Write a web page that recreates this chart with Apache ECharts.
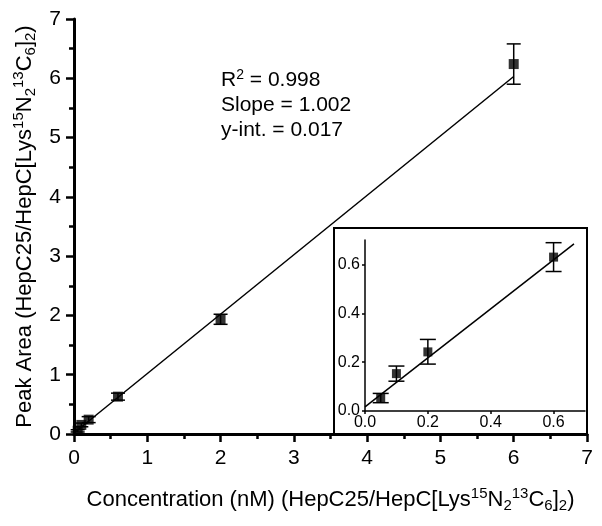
<!DOCTYPE html>
<html>
<head>
<meta charset="utf-8">
<script src="https://cdn.jsdelivr.net/npm/echarts@6/dist/echarts.min.js"></script>
<style>
  html, body { margin: 0; padding: 0; background: #fff; }
  #chart { width: 602px; height: 526px; }
</style>
</head>
<body>
<div id="chart"></div>
<script>
// ===== data =====
const concX = [0.05, 0.1, 0.2, 0.6, 2, 6]
const peakMean = [0.055, 0.153, 0.242, 0.63, 1.94, 6.24]
const peakLow = [0.034, 0.122, 0.192, 0.571, 1.85, 5.9]
const peakHigh = [0.072, 0.184, 0.293, 0.689, 2.02, 6.58]

// fitted line as drawn (endpoints)
const fitMain = [[0, 0.017], [6, 6.03]]
const fitInset = [[0, 0.017], [0.665, 0.684]]

// inset shows the low concentrations only
const insetCount = 4

const insetTicks = [0, 0.2, 0.4, 0.6]

const FONT = "'Liberation Sans', Arial, Helvetica, sans-serif"

const pts = concX.map((x, i) => [x, peakMean[i]])
const errs = concX.map((x, i) => [x, peakLow[i], peakHigh[i]])

// error bars with caps, drawn through the axis scales
const errorBars = (capHalf, lw) => (params, api) => {
    const x = api.value(0)
    const top = api.coord([x, api.value(2)])
    const bot = api.coord([x, api.value(1)])
    const style = { stroke: '#000', lineWidth: lw, fill: null }
    return {
        type: 'group',
        children: [
            { type: 'line', shape: { x1: top[0], y1: top[1], x2: bot[0], y2: bot[1] }, style },
            { type: 'line', shape: { x1: top[0] - capHalf, y1: top[1], x2: top[0] + capHalf, y2: top[1] }, style },
            { type: 'line', shape: { x1: bot[0] - capHalf, y1: bot[1], x2: bot[0] + capHalf, y2: bot[1] }, style }
        ]
    }
}

const richName = {
    sup: { fontSize: 15, fontFamily: FONT, verticalAlign: 'top', lineHeight: 14, color: '#000' },
    sub: { fontSize: 15, fontFamily: FONT, verticalAlign: 'bottom', lineHeight: 14, color: '#000' }
}
const titleTail = 'HepC25/HepC[Lys{sup|15}N{sub|2}{sup|13}C{sub|6}]{sub|2})'

const mainAxisCommon = {
    type: 'value',
    min: 0,
    max: 7,
    interval: 1,
    z: 4,
    splitLine: { show: false },
    axisLine: { show: true, onZero: false, lineStyle: { color: '#000', width: 3 } },
    axisTick: { show: true, inside: false, length: 8, lineStyle: { color: '#000', width: 2.5 } },
    minorTick: { show: true, splitNumber: 2, length: 5, lineStyle: { color: '#000', width: 2.5 } },
    nameLocation: 'middle',
    nameTextStyle: { fontSize: 22, fontFamily: FONT, color: '#000', lineHeight: 27, rich: richName }
}

const insetAxisCommon = {
    type: 'value',
    min: 0,
    max: 0.7,
    interval: 0.2,
    z: 4,
    splitLine: { show: false },
    axisLine: { show: true, onZero: false, lineStyle: { color: '#000', width: 1.5 } },
    axisTick: { show: true, inside: false, length: 3, customValues: insetTicks, lineStyle: { color: '#000', width: 1.5 } },
    axisLabel: {
        customValues: insetTicks,
        formatter: v => v.toFixed(1),
        fontSize: 16, fontFamily: FONT, color: '#000'
    }
}

const chart = echarts.init(document.getElementById('chart'), null, { renderer: 'canvas' })

chart.setOption({
    animation: false,
    backgroundColor: '#fff',
    textStyle: { fontFamily: FONT },
    grid: [
        { left: 74, right: 15, top: 19, bottom: 92 },
        { left: 365, right: 17, top: 240, bottom: 115 }
    ],
    xAxis: [
        {
            ...mainAxisCommon,
            gridIndex: 0,
            name: 'Concentration (nM) (' + titleTail,
            nameGap: 52,
            axisLabel: { margin: 14, fontSize: 21, fontFamily: FONT, color: '#000' }
        },
        { ...insetAxisCommon, gridIndex: 1, axisLabel: { ...insetAxisCommon.axisLabel, margin: 4 } }
    ],
    yAxis: [
        {
            ...mainAxisCommon,
            gridIndex: 0,
            name: 'Peak Area (' + titleTail,
            nameGap: 25,
            axisLabel: { margin: 13, fontSize: 21, fontFamily: FONT, color: '#000' }
        },
        { ...insetAxisCommon, gridIndex: 1, axisLabel: { ...insetAxisCommon.axisLabel, margin: 5 } }
    ],
    graphic: [
        {
            // inset frame
            type: 'rect',
            z: 1,
            shape: { x: 334, y: 228, width: 253, height: 206 },
            style: { fill: '#fff', stroke: '#000', lineWidth: 2 }
        },
        {
            type: 'text',
            left: 221,
            top: 68,
            z: 5,
            style: {
                text: 'R{sup|2} = 0.998\nSlope = 1.002\ny-int. = 0.017',
                fontSize: 21,
                fontFamily: FONT,
                fill: '#000',
                lineHeight: 25,
                rich: { sup: { fontSize: 14, fontFamily: FONT, verticalAlign: 'top', lineHeight: 14 } }
            }
        }
    ],
    series: [
        {
            type: 'line',
            xAxisIndex: 0, yAxisIndex: 0,
            data: fitMain,
            showSymbol: false,
            lineStyle: { color: '#000', width: 1.5 },
            z: 3
        },
        {
            type: 'custom',
            xAxisIndex: 0, yAxisIndex: 0,
            renderItem: errorBars(7, 1.5),
            data: errs,
            z: 4
        },
        {
            type: 'scatter',
            xAxisIndex: 0, yAxisIndex: 0,
            data: pts,
            symbol: 'rect',
            symbolSize: [10, 10],
            itemStyle: { color: '#000' },
            z: 5
        },
        {
            type: 'line',
            xAxisIndex: 1, yAxisIndex: 1,
            data: fitInset,
            showSymbol: false,
            lineStyle: { color: '#000', width: 1.5 },
            z: 3
        },
        {
            type: 'custom',
            xAxisIndex: 1, yAxisIndex: 1,
            renderItem: errorBars(8, 1.5),
            data: errs.slice(0, insetCount),
            z: 4
        },
        {
            type: 'scatter',
            xAxisIndex: 1, yAxisIndex: 1,
            data: pts.slice(0, insetCount),
            symbol: 'rect',
            symbolSize: [9, 9],
            itemStyle: { color: '#000' },
            z: 5
        }
    ]
})
</script>
</body>
</html>
